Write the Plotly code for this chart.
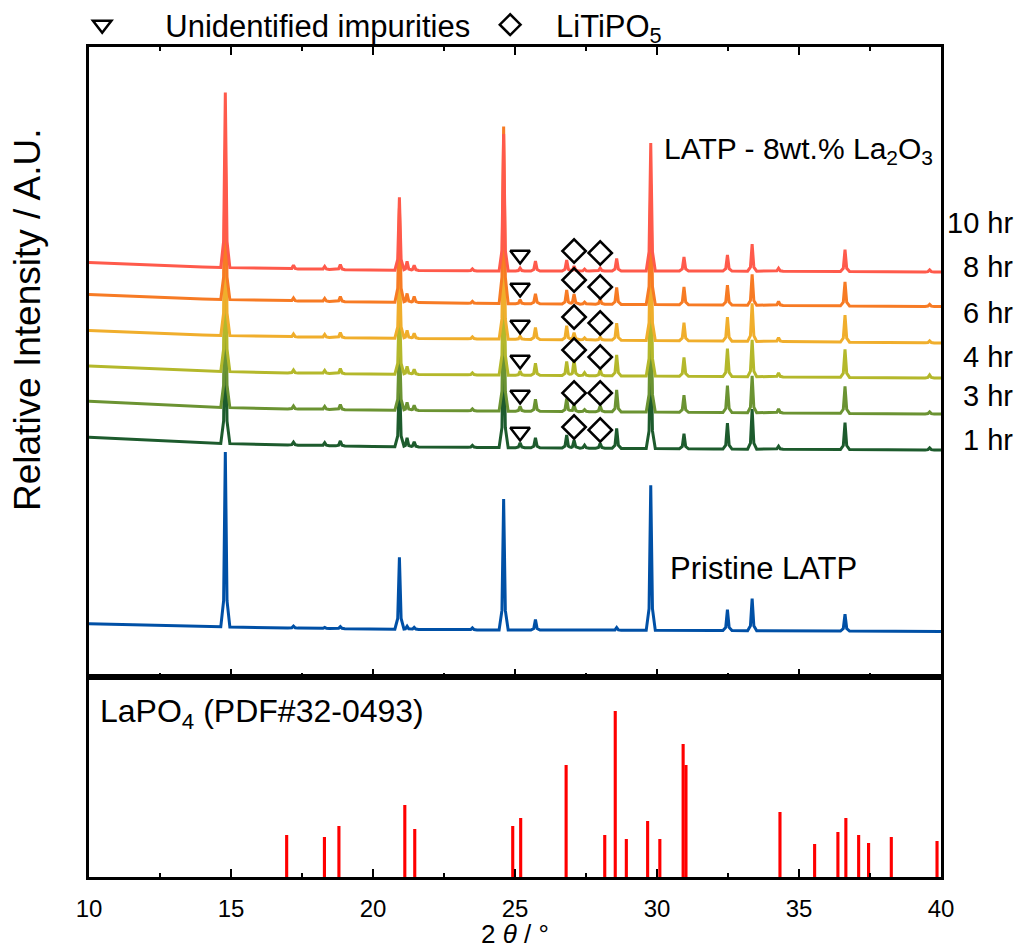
import numpy as np
import plotly.graph_objects as go

# ---------------- data ----------------
SERIES = ["10 hr", "8 hr", "6 hr", "4 hr", "3 hr", "1 hr"]

# baseline knots (2theta) and baseline intensity per pattern (a.u., offset-stacked)
X_BASE = [10, 12, 14, 17, 20, 24, 32, 40]
BASE_10H = [414.5, 412, 410, 408, 407, 406, 406, 405]
BASE_8H = [382.6, 380, 378, 376, 375, 373.5, 372, 370.5]
BASE_6H = [346.6, 344, 342, 340, 339, 338, 336, 334]
BASE_4H = [311, 308.5, 306, 304, 303, 302, 300.5, 299]
BASE_3H = [275.7, 273, 270, 268, 267, 266, 264.5, 263]
BASE_1H = [239.7, 237, 234, 232, 230.5, 229.5, 228, 227]
BASE_PRISTINE = [53.3, 52, 50.5, 49, 48, 47, 46.5, 45.5]

# reflection positions (2theta, deg)
PEAK_POS = [14.8, 17.2, 18.3, 18.85, 20.93, 21.2, 21.45, 23.5, 24.6, 25.18,
            25.72, 26.82, 27.08, 27.45, 28.0, 28.58, 29.78, 30.95, 32.48,
            33.35, 34.28, 36.62, 39.6]
# peak heights above baseline
H_10H = [175, 4, 3, 5, 73, 9, 5, 2, 137, 3, 10, 11, 5, 2, 3, 12.5, 128, 14, 16, 27, 3, 22, 2]
H_8H = [150, 3, 3, 5, 94, 9, 6, 2, 177, 4, 10, 14, 10, 2, 5, 17, 120, 18, 20, 31, 4, 24, 2]
H_6H = [150, 3, 3, 5, 75, 8, 5, 2, 135, 3, 12, 14, 7, 2, 3, 17, 118, 18, 24, 38, 4, 27, 2]
H_4H = [150, 3, 3, 5, 72, 8, 5, 2, 133, 4, 12, 14, 16, 3, 6, 21, 118, 19, 28, 37, 4, 28, 3]
H_3H = [150, 3, 3, 5, 72, 8, 5, 2, 133, 5, 12, 13, 7, 2, 6, 22, 118, 17, 27, 37, 4, 27, 2]
H_1H = [150, 3, 3, 5, 72, 9, 5, 2, 133, 5, 10, 13, 8, 3, 5, 20, 118, 15, 26, 40, 3, 27, 2]
H_PRISTINE = [175, 2, 1, 2, 72, 3, 2, 2, 131, 0, 10.7, 0, 0, 0, 0, 2.7, 145, 0, 21, 32, 0, 17, 0]

# phase markers
IMP_X = 25.18
IMP_Y = [422, 389, 352, 317, 282, 245]
LTP_X = [27.08, 28.0]
LTP_Y1 = [426, 397, 360, 327, 284, 250]
LTP_Y2 = [424, 390, 354, 320, 284, 247]

# LaPO4 reference pattern (PDF#32-0493)
LAPO4_POS = [16.96, 18.29, 18.80, 21.12, 21.47, 24.92, 25.20, 26.80, 28.16, 28.53,
             28.92, 29.67, 30.10, 30.92, 31.02, 34.33, 35.55, 36.37, 36.65, 37.10,
             37.45, 38.25, 39.86]
LAPO4_INT = [21, 20, 25.5, 36, 24, 25.5, 29.5, 56, 21, 83, 19, 28, 19, 66.5, 56,
             32.5, 16.5, 22.5, 29.5, 21, 17, 20, 18]

HR_LABEL_Y = [454, 410, 364, 320, 281, 237]

# ---------------- styles ----------------
COLORS = ["#FF5A4B", "#F77B24", "#F0AE2C", "#B4B82B", "#6B9332", "#1D5B2D"]
BLUE = "#0050A6"
FONT = "Arial, Liberation Sans, sans-serif"

# peak profile (piecewise-linear shape, offsets in deg, relative height)
K_X = [-0.16, -0.06, 0.0, 0.06, 0.16]
K_Y = [0.0, 0.15, 1.0, 0.15, 0.0]


def pattern(base, heights):
    xs = set(X_BASE)
    for p, h in zip(PEAK_POS, heights):
        if h > 0:
            for k in K_X:
                xs.add(round(p + k, 4))
    xs = np.array(sorted(x for x in xs if 10 <= x <= 40))
    ys = np.interp(xs, X_BASE, base)
    for p, h in zip(PEAK_POS, heights):
        if h > 0:
            ys = ys + h * np.interp(xs - p, K_X, K_Y, left=0, right=0)
    return xs, ys


fig = go.Figure()

# LaPO4 sticks (bottom panel)
fig.add_trace(go.Bar(x=LAPO4_POS, y=LAPO4_INT, width=0.11, marker=dict(color="#FF0000", line=dict(width=0)),
                     xaxis="x", yaxis="y", showlegend=False))

# Pristine
px_, py_ = pattern(BASE_PRISTINE, H_PRISTINE)
fig.add_trace(go.Scatter(x=px_, y=py_, mode="lines", line=dict(color=BLUE, width=3),
                         xaxis="x2", yaxis="y2", showlegend=False))

bases = [BASE_10H, BASE_8H, BASE_6H, BASE_4H, BASE_3H, BASE_1H]
heights = [H_10H, H_8H, H_6H, H_4H, H_3H, H_1H]
for i in reversed(range(len(SERIES))):
    xs, ys = pattern(bases[i], heights[i])
    fig.add_trace(go.Scatter(x=xs, y=ys, mode="lines", name=SERIES[i],
                             line=dict(color=COLORS[i], width=3),
                             xaxis="x2", yaxis="y2", showlegend=False))

fig.add_trace(go.Scatter(x=[IMP_X] * len(IMP_Y), y=IMP_Y, mode="markers",
                         name="\u00a0\u00a0\u00a0\u00a0\u00a0Unidentified impurities",
                         marker=dict(symbol="triangle-down-open", size=17, color="black",
                                     line=dict(width=2.5, color="black")),
                         xaxis="x2", yaxis="y2"))
fig.add_trace(go.Scatter(x=[LTP_X[0]] * len(LTP_Y1) + [LTP_X[1]] * len(LTP_Y2),
                         y=LTP_Y1 + LTP_Y2, mode="markers",
                         name="\u00a0\u00a0\u00a0LiTiPO<sub>5</sub>",
                         marker=dict(symbol="diamond-open", size=18, color="black",
                                     line=dict(width=2.5, color="black")),
                         xaxis="x2", yaxis="y2"))

annotations = [
    dict(x=30.18, y=527, xref="x2", yref="y2", xanchor="left", yanchor="middle",
         text="LATP - 8wt.% La<sub>2</sub>O<sub>3</sub>", showarrow=False, font=dict(size=30)),
    dict(x=30.39, y=109, xref="x2", yref="y2", xanchor="left", yanchor="middle",
         text="Pristine LATP", showarrow=False, font=dict(size=31)),
    dict(x=10.32, y=82, xref="x", yref="y", xanchor="left", yanchor="middle",
         text="LaPO<sub>4</sub> (PDF#32-0493)", showarrow=False, font=dict(size=32)),
    dict(x=-0.0716, y=0.6723, xref="paper", yref="paper", xanchor="center", yanchor="middle",
         text="Relative Intensity / A.U.", textangle=-90, showarrow=False, font=dict(size=37)),
    dict(x=0.5, y=-0.0892, xref="paper", yref="paper", xanchor="center", yanchor="bottom",
         text="2 <i>θ</i> / °", showarrow=False, font=dict(size=26)),
]
for lab, yv in zip(SERIES, HR_LABEL_Y):
    annotations.append(dict(x=1.0869, y=yv, xref="paper", yref="y2", xanchor="right",
                            yanchor="middle", text=lab, showarrow=False, font=dict(size=29)))

split = 200 / 830
axis_common = dict(showline=True, linecolor="black", linewidth=2.5, showgrid=False, zeroline=False)

fig.update_layout(
    width=1022, height=952,
    margin=dict(l=89, r=81, t=47, b=75, autoexpand=False),
    paper_bgcolor="white", plot_bgcolor="white",
    font=dict(family=FONT, color="black", size=26),
    barmode="overlay",
    xaxis=dict(domain=[0, 1], anchor="y", range=[10, 40], tickvals=[10, 15, 20, 25, 30, 35, 40],
               ticks="inside", ticklen=8, tickwidth=2, tickcolor="black", mirror=True,
               minor=dict(dtick=2.5, tick0=10, ticks="inside", ticklen=4, tickwidth=2, tickcolor="black"),
               tickfont=dict(size=24), ticklabelstandoff=8,
               **axis_common),
    xaxis2=dict(domain=[0, 1], anchor="y2", range=[10, 40], matches="x", showticklabels=False,
                tickvals=[10, 15, 20, 25, 30, 35, 40],
                ticks="inside", ticklen=8, tickwidth=2, tickcolor="black", mirror="ticks",
                minor=dict(dtick=2.5, tick0=10, ticks="inside", ticklen=4, tickwidth=2, tickcolor="black"),
                **axis_common),
    yaxis=dict(domain=[0, split], range=[0, 100], showticklabels=False, ticks="", mirror=True,
               **axis_common),
    yaxis2=dict(domain=[split, 1], range=[0, 630], showticklabels=False, ticks="", mirror=True,
                **axis_common),
    legend=dict(orientation="h", x=-0.008, y=1.0265, xanchor="left", yanchor="middle",
                font=dict(size=31), bgcolor="rgba(0,0,0,0)", itemwidth=30,
                entrywidth=363, entrywidthmode="pixels"),
    annotations=annotations,
)

fig.write_html("out.html")
